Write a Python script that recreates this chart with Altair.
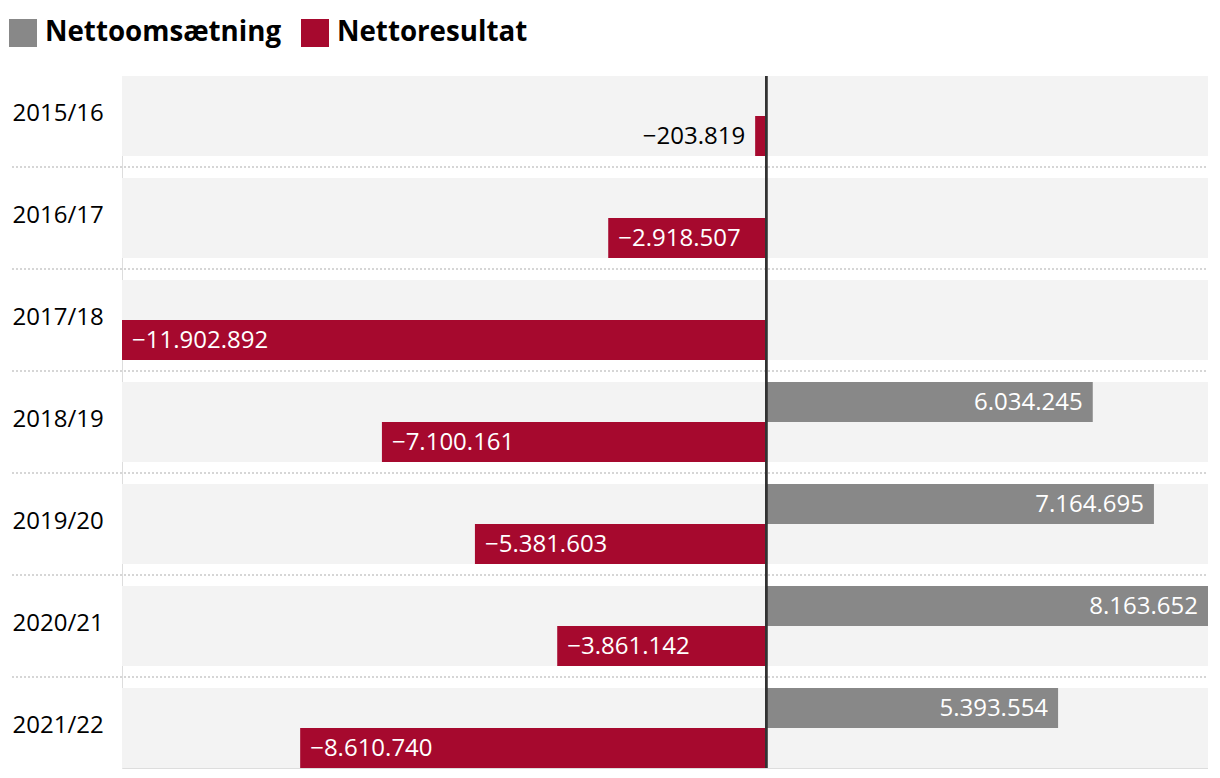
import altair as alt
import pandas as pd

years = ["2015/16", "2016/17", "2017/18", "2018/19", "2019/20", "2020/21", "2021/22"]
series = ["Nettoomsætning", "Nettoresultat"]
omsaetning = [None, None, None, 6034245, 7164695, 8163652, 5393554]
resultat = [-203819, -2918507, -11902892, -7100161, -5381603, -3861142, -8610740]
colors = ["#888888", "#A6092E"]


def fmt(v):
    s = f"{abs(int(v)):,}".replace(",", ".")
    return ("\u2212" + s) if v < 0 else s


rows = []
for y, o, r in zip(years, omsaetning, resultat):
    for name, v in ((series[0], o), (series[1], r)):
        if v is None:
            continue
        if v >= 0:
            place = "inR"
        elif abs(v) < 1500000:
            place = "out"
        else:
            place = "inL"
        rows.append({"year": y, "series": name, "value": v, "label": fmt(v), "place": place})
df = pd.DataFrame(rows)
bg = pd.DataFrame({"year": years})
sep = pd.DataFrame({"year": years[:-1]})

W, H = 1086, 692
FONT = "Open Sans"
FS = 24

xscale = alt.Scale(domain=[min(resultat), max(v for v in omsaetning if v is not None)], nice=False)
yenc = alt.Y("year:N", sort=years,
             scale=alt.Scale(domain=years, paddingInner=22 / 102, paddingOuter=0),
             axis=alt.Axis(title=None, ticks=False, domain=False, grid=False, labelAlign="left",
                           labelPadding=110, labelFontSize=FS, labelFont=FONT,
                           labelColor="#000000", labelOffset=-2))
yoff = alt.YOffset("series:N", sort=series,
                   scale=alt.Scale(domain=series, paddingInner=0, paddingOuter=0))

background = alt.Chart(bg).mark_bar(color="#F3F3F3").encode(
    y=yenc, x=alt.value(0), x2=alt.value(W)
)

separators = alt.Chart(sep).mark_rule(
    color="#d6d6d6", strokeWidth=2, strokeDash=[2, 2], yOffset=51
).encode(y=yenc, x=alt.value(-110), x2=alt.value(W))

bars = alt.Chart(df).mark_bar().encode(
    y=yenc,
    yOffset=yoff,
    x=alt.X("value:Q", scale=xscale, axis=None),
    color=alt.Color("series:N", sort=series,
                    scale=alt.Scale(domain=series, range=colors),
                    legend=alt.Legend(title=None, orient="none", legendX=-113, legendY=-57,
                                      direction="horizontal", symbolType="square",
                                      symbolSize=784, symbolStrokeWidth=0,
                                      labelFont=FONT, labelFontSize=27.7,
                                      labelFontWeight="bold", labelColor="#000000",
                                      labelLimit=0, labelOffset=8, columnPadding=19)),
)

def text_layer(place, align, dx, color):
    return alt.Chart(df).transform_filter(alt.datum.place == place).mark_text(
        align=align, baseline="middle", dx=dx, dy=1, fontSize=FS, font=FONT, color=color
    ).encode(
        y=yenc, yOffset=yoff,
        x=alt.X("value:Q", scale=xscale, axis=None),
        text="label:N",
    )

zero = alt.Chart(bg).mark_rule(color="#333333", strokeWidth=2).encode(
    x=alt.datum(0, scale=xscale), y=alt.value(0), y2=alt.value(H)
)

chart = alt.layer(
    background, separators, bars,
    text_layer("inR", "right", -10, "#ffffff"),
    text_layer("inL", "left", 10, "#ffffff"),
    text_layer("out", "right", -10, "#000000"),
    zero,
).properties(
    width=W, height=H,
    autosize=alt.AutoSizeParams(type="none"),
    padding={"left": 114, "top": 68, "right": 0, "bottom": 2},
).configure_view(stroke=None).configure_axis(domain=False, grid=False, ticks=False).configure(font=FONT)

chart.save("out.html", embed_options={"renderer": "svg", "actions": False})
